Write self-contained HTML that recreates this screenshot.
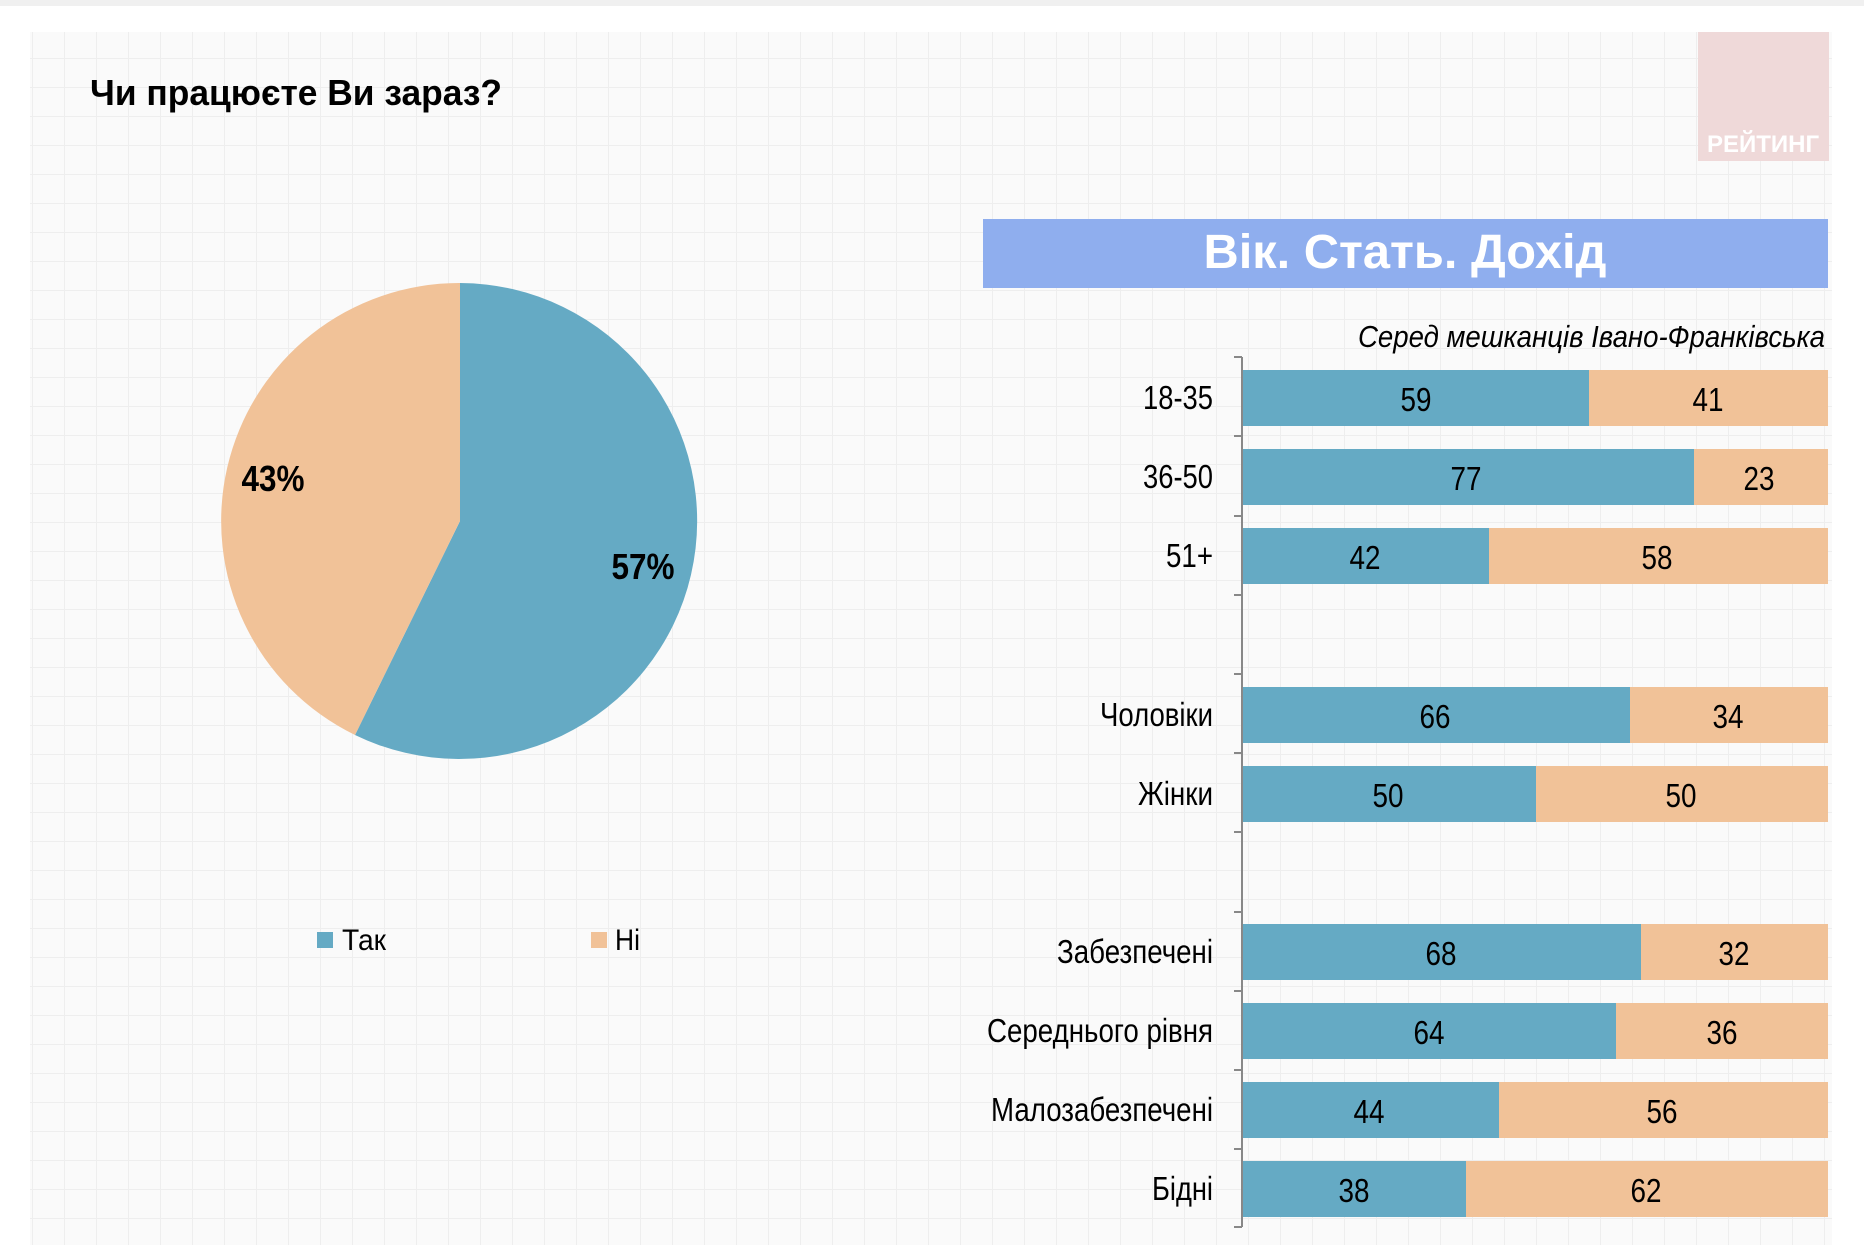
<!DOCTYPE html>
<html><head><meta charset="utf-8"><style>
html,body{margin:0;padding:0;background:#fff;}
body{width:1864px;height:1245px;overflow:hidden;position:relative;}
svg{position:absolute;left:0;top:0;}
</style></head><body>
<svg width="1864" height="1245" xmlns="http://www.w3.org/2000/svg" font-family="'Liberation Sans Narrow','Liberation Sans',sans-serif">
<defs>
<pattern id="g" width="64" height="58" patternUnits="userSpaceOnUse">
<rect width="64" height="58" fill="#fafafa"/>
<path d="M0 0.5H64M0 29.5H64M0.5 0V58M32.5 0V58" stroke="#eeeeee" stroke-width="1"/>
</pattern>
</defs>
<rect x="0" y="0" width="1864" height="6" fill="#f0f0f0"/>
<rect x="30" y="32" width="1802" height="1213" fill="url(#g)"/>
<text x="90" y="105" font-size="36" font-weight="bold" textLength="412" lengthAdjust="spacingAndGlyphs">Чи працюєте Ви зараз?</text>
<rect x="1698" y="32" width="131" height="129" fill="#efd9d9"/>
<text x="1763" y="152" font-size="24" font-weight="bold" fill="#fff" text-anchor="middle" font-family="'Liberation Sans',sans-serif">РЕЙТИНГ</text>
<path d="M460 521 L460 283 A238 238 0 1 1 355 735 Z" fill="#65aac4"/>
<path d="M460 521 L355 735 A238 238 0 0 1 460 283 Z" fill="#f1c298"/>
<text x="273" y="491" font-size="36" font-weight="bold" text-anchor="middle" textLength="63" lengthAdjust="spacingAndGlyphs">43%</text>
<text x="643" y="579" font-size="36" font-weight="bold" text-anchor="middle" textLength="63" lengthAdjust="spacingAndGlyphs">57%</text>
<rect x="317" y="932" width="16" height="16" fill="#65aac4"/>
<text x="342" y="950" font-size="30" textLength="44" lengthAdjust="spacingAndGlyphs">Так</text>
<rect x="591" y="932" width="16" height="16" fill="#f1c298"/>
<text x="615" y="950" font-size="30" textLength="25" lengthAdjust="spacingAndGlyphs">Ні</text>
<rect x="983" y="219" width="845" height="69" fill="#8faeee"/>
<text x="1405" y="268" font-size="48" font-weight="bold" fill="#fff" text-anchor="middle" textLength="403" lengthAdjust="spacingAndGlyphs">Вік. Стать. Дохід</text>
<text x="1825" y="347" font-size="31" font-style="italic" text-anchor="end" textLength="467" lengthAdjust="spacingAndGlyphs">Серед мешканців Івано-Франківська</text>
<g stroke="#888" stroke-width="2">
<line x1="1242" y1="357" x2="1242" y2="1227"/>
<line x1="1234" y1="357" x2="1242" y2="357"/>
<line x1="1234" y1="436" x2="1242" y2="436"/>
<line x1="1234" y1="516" x2="1242" y2="516"/>
<line x1="1234" y1="595" x2="1242" y2="595"/>
<line x1="1234" y1="674" x2="1242" y2="674"/>
<line x1="1234" y1="753" x2="1242" y2="753"/>
<line x1="1234" y1="832" x2="1242" y2="832"/>
<line x1="1234" y1="912" x2="1242" y2="912"/>
<line x1="1234" y1="991" x2="1242" y2="991"/>
<line x1="1234" y1="1070" x2="1242" y2="1070"/>
<line x1="1234" y1="1149" x2="1242" y2="1149"/>
<line x1="1234" y1="1227" x2="1242" y2="1227"/>
</g>
<g font-size="33">
<g>
<rect x="1243" y="370" width="346" height="56" fill="#65aac4"/><rect x="1589" y="370" width="239" height="56" fill="#f1c298"/>
<text x="1213" y="409" text-anchor="end" textLength="70" lengthAdjust="spacingAndGlyphs">18-35</text>
<text x="1416" y="411" text-anchor="middle" textLength="31" lengthAdjust="spacingAndGlyphs">59</text><text x="1708" y="411" text-anchor="middle" textLength="31" lengthAdjust="spacingAndGlyphs">41</text>
</g>
<g>
<rect x="1243" y="449" width="451" height="56" fill="#65aac4"/><rect x="1694" y="449" width="134" height="56" fill="#f1c298"/>
<text x="1213" y="488" text-anchor="end" textLength="70" lengthAdjust="spacingAndGlyphs">36-50</text>
<text x="1466" y="490" text-anchor="middle" textLength="31" lengthAdjust="spacingAndGlyphs">77</text><text x="1759" y="490" text-anchor="middle" textLength="31" lengthAdjust="spacingAndGlyphs">23</text>
</g>
<g>
<rect x="1243" y="528" width="246" height="56" fill="#65aac4"/><rect x="1489" y="528" width="339" height="56" fill="#f1c298"/>
<text x="1213" y="567" text-anchor="end" textLength="47" lengthAdjust="spacingAndGlyphs">51+</text>
<text x="1365" y="569" text-anchor="middle" textLength="31" lengthAdjust="spacingAndGlyphs">42</text><text x="1657" y="569" text-anchor="middle" textLength="31" lengthAdjust="spacingAndGlyphs">58</text>
</g>
<g>
<rect x="1243" y="687" width="387" height="56" fill="#65aac4"/><rect x="1630" y="687" width="198" height="56" fill="#f1c298"/>
<text x="1213" y="726" text-anchor="end" textLength="113" lengthAdjust="spacingAndGlyphs">Чоловіки</text>
<text x="1435" y="728" text-anchor="middle" textLength="31" lengthAdjust="spacingAndGlyphs">66</text><text x="1728" y="728" text-anchor="middle" textLength="31" lengthAdjust="spacingAndGlyphs">34</text>
</g>
<g>
<rect x="1243" y="766" width="293" height="56" fill="#65aac4"/><rect x="1536" y="766" width="292" height="56" fill="#f1c298"/>
<text x="1213" y="805" text-anchor="end" textLength="75" lengthAdjust="spacingAndGlyphs">Жінки</text>
<text x="1388" y="807" text-anchor="middle" textLength="31" lengthAdjust="spacingAndGlyphs">50</text><text x="1681" y="807" text-anchor="middle" textLength="31" lengthAdjust="spacingAndGlyphs">50</text>
</g>
<g>
<rect x="1243" y="924" width="398" height="56" fill="#65aac4"/><rect x="1641" y="924" width="187" height="56" fill="#f1c298"/>
<text x="1213" y="963" text-anchor="end" textLength="156" lengthAdjust="spacingAndGlyphs">Забезпечені</text>
<text x="1441" y="965" text-anchor="middle" textLength="31" lengthAdjust="spacingAndGlyphs">68</text><text x="1734" y="965" text-anchor="middle" textLength="31" lengthAdjust="spacingAndGlyphs">32</text>
</g>
<g>
<rect x="1243" y="1003" width="373" height="56" fill="#65aac4"/><rect x="1616" y="1003" width="212" height="56" fill="#f1c298"/>
<text x="1213" y="1042" text-anchor="end" textLength="226" lengthAdjust="spacingAndGlyphs">Середнього рівня</text>
<text x="1429" y="1044" text-anchor="middle" textLength="31" lengthAdjust="spacingAndGlyphs">64</text><text x="1722" y="1044" text-anchor="middle" textLength="31" lengthAdjust="spacingAndGlyphs">36</text>
</g>
<g>
<rect x="1243" y="1082" width="256" height="56" fill="#65aac4"/><rect x="1499" y="1082" width="329" height="56" fill="#f1c298"/>
<text x="1213" y="1121" text-anchor="end" textLength="222" lengthAdjust="spacingAndGlyphs">Малозабезпечені</text>
<text x="1369" y="1123" text-anchor="middle" textLength="31" lengthAdjust="spacingAndGlyphs">44</text><text x="1662" y="1123" text-anchor="middle" textLength="31" lengthAdjust="spacingAndGlyphs">56</text>
</g>
<g>
<rect x="1243" y="1161" width="223" height="56" fill="#65aac4"/><rect x="1466" y="1161" width="362" height="56" fill="#f1c298"/>
<text x="1213" y="1200" text-anchor="end" textLength="61" lengthAdjust="spacingAndGlyphs">Бідні</text>
<text x="1354" y="1202" text-anchor="middle" textLength="31" lengthAdjust="spacingAndGlyphs">38</text><text x="1646" y="1202" text-anchor="middle" textLength="31" lengthAdjust="spacingAndGlyphs">62</text>
</g>
</g>
</svg>
</body></html>
